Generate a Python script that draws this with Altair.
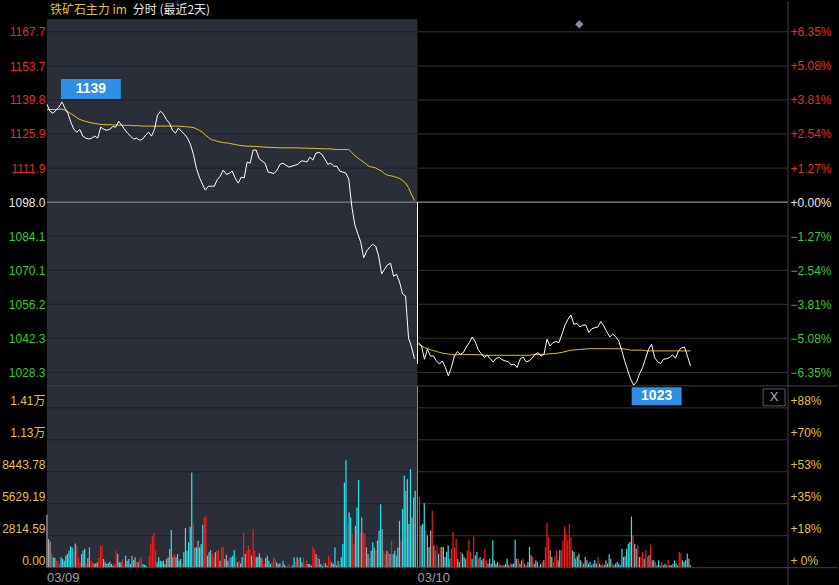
import altair as alt
import pandas as pd

# ---------------- data ----------------
PRE_SETTLE = 1098.0
DAY_LABELS = ["03/09", "03/10"]
DAY_LEN = 372            # time units per trading session
PRICE_STEP = 3           # price sampled every 3 time units
VOL_STEP_1 = 1.58
VOL_STEP_2 = 1.6
DAY2_OPEN_PRINT = 1031.8  # first print of 03/10, drawn from the pre-settlement

TITLE_MAIN = "铁矿石主力 im"
TITLE_SUB = "分时 (最近2天)"

PRICE_TICKS = [1028.3, 1042.3, 1056.2, 1070.1, 1084.1, 1098.0, 1111.9, 1125.9, 1139.8, 1153.7, 1167.7]
PCT_TICKS = [-6.35, -5.08, -3.81, -2.54, -1.27, 0.0, 1.27, 2.54, 3.81, 5.08, 6.35]
VOL_TICKS = [0, 2814.59, 5629.19, 8443.78, 11258.37, 14072.96]
VOL_TOP = 16008
PRICE_DOMAIN = [1022.78, 1172.81]

# 03/09 price / average price
P1 = [1138, 1135.2, 1134.4, 1135.6, 1136.8, 1139, 1136.5, 1134.4, 1130.7, 1127.8,
      1126.6, 1127.7, 1125, 1124.2, 1123.8, 1124.2, 1125, 1124.2, 1128.7, 1127.8,
      1127.4, 1127.8, 1128.9, 1128.7, 1131.1, 1129.5, 1127.7, 1126.2, 1125, 1123.8,
      1124.2, 1123.3, 1123.8, 1125.4, 1126.6, 1125, 1127.8, 1133.6, 1135.2, 1134,
      1131.7, 1130.3, 1127.4, 1126.2, 1128.3, 1127, 1125.8, 1124.2, 1121.7, 1117.6,
      1111.9, 1108.2, 1105.4, 1102.9, 1104.5, 1104.5, 1104.5, 1107.2, 1108.6, 1111.1,
      1109.4, 1109.7, 1110.7, 1107.8, 1105.8, 1108.2, 1107.9, 1114.4, 1113.9, 1119.3,
      1119.3, 1115.8, 1114.8, 1113.9, 1110.3, 1110, 1109.7, 1111.1, 1113.5, 1113.9,
      1113.1, 1112.3, 1112.7, 1113.1, 1113.5, 1114.8, 1114.8, 1114.4, 1116.4, 1115.2,
      1118, 1118.4, 1117.6, 1115.6, 1113.5, 1113.9, 1112.7, 1112.7, 1110.7, 1110.3,
      1109.9, 1107.4, 1096.4, 1088.8, 1085.1, 1081.6, 1075.2, 1078, 1079.6, 1080.7,
      1080, 1075.9, 1068.6, 1070.6, 1072.4, 1072.9, 1067.7, 1068.4, 1065.3, 1060.4,
      1059.6, 1042.4, 1038.7, 1033.8]
A1 = [1135.9, 1135.9, 1135.9, 1135.9, 1136, 1136.1, 1135.6, 1135, 1134.2, 1133.4,
      1132.6, 1131.8, 1131.4, 1131, 1130.7, 1130.4, 1130.2, 1130, 1129.8, 1129.7,
      1129.7, 1129.7, 1129.6, 1129.6, 1129.5, 1129.5, 1129.4, 1129.4, 1129.4, 1129.3,
      1129.3, 1129.2, 1129.1, 1129.1, 1129.1, 1129.1, 1129.1, 1129.1, 1129.1, 1129.1,
      1129.1, 1129.1, 1129.1, 1129.1, 1129.1, 1129, 1128.9, 1128.8, 1128.7, 1128.5,
      1128, 1127.4, 1126.6, 1125.5, 1124.5, 1123.6, 1123.3, 1122.9, 1122.6, 1122.4,
      1122.2, 1122.1, 1121.8, 1121.6, 1121.3, 1121.1, 1121, 1120.9, 1120.9, 1120.8,
      1120.8, 1120.7, 1120.6, 1120.5, 1120.4, 1120.4, 1120.3, 1120.3, 1120.2, 1120.2,
      1120.2, 1120.2, 1120.2, 1120.2, 1120.2, 1120.1, 1120.1, 1120.1, 1120, 1120,
      1120, 1119.9, 1119.9, 1119.8, 1119.8, 1119.8, 1119.6, 1119.5, 1119.5, 1119.5,
      1119.5, 1119.5, 1118.3, 1117.1, 1116.1, 1115.2, 1114.3, 1113.3, 1112.5, 1112.3,
      1112, 1111.3, 1110.7, 1109.6, 1109, 1108.8, 1108.5, 1108.1, 1107.7, 1106.8,
      1105.8, 1103.9, 1101.1, 1098.6]

# 03/10 price / average price
P2 = [1040.5, 1039.1, 1033.7, 1037.8, 1035, 1035, 1033, 1031.7, 1033, 1030.3,
      1026.9, 1030.3, 1035, 1036.8, 1035.7, 1036.4, 1038.7, 1040.5, 1042.8, 1040.9,
      1037.5, 1036, 1034.4, 1035.3, 1033.9, 1032.6, 1034.1, 1034.4, 1033.5, 1033,
      1032.7, 1031.4, 1031.7, 1030.3, 1033.7, 1034.6, 1032.6, 1033, 1034.1, 1035.7,
      1036.4, 1035, 1035.7, 1041.9, 1039.1, 1040.5, 1040.9, 1040.5, 1043.9, 1047.6,
      1050, 1051.8, 1048, 1048.4, 1046.9, 1047.7, 1047.7, 1044.6, 1046.2, 1046.6,
      1046.9, 1049.1, 1047.3, 1045, 1042.8, 1044, 1042.9, 1041.2, 1037.4, 1033,
      1029.2, 1025.5, 1023, 1024.5, 1027.8, 1030.3, 1034.1, 1037.8, 1039.8, 1034.4,
      1032.7, 1031.9, 1033.7, 1033.9, 1034.4, 1035.5, 1034.1, 1037.1, 1038.4, 1038.7,
      1035, 1031]
A2 = [1039.8, 1039.1, 1038.4, 1038, 1037.6, 1037.2, 1036.9, 1036.5, 1036.2, 1036,
      1035.8, 1035.6, 1035.5, 1035.6, 1035.6, 1035.6, 1035.6, 1035.6, 1035.6, 1035.6,
      1035.5, 1035.5, 1035.3, 1035.3, 1035.3, 1035.3, 1035.3, 1035.3, 1035.3, 1035.3,
      1035.3, 1035.3, 1035.3, 1035.3, 1035.3, 1035.3, 1035.3, 1035.3, 1035.5, 1035.6,
      1035.7, 1035.7, 1035.7, 1035.8, 1035.9, 1036, 1036.1, 1036.3, 1036.5, 1036.8,
      1037.1, 1037.4, 1037.5, 1037.6, 1037.7, 1037.8, 1037.9, 1038, 1038, 1038,
      1038, 1038, 1038, 1038, 1038, 1038, 1038, 1038, 1038, 1037.9,
      1037.6, 1037.4, 1037.4, 1037.4, 1037.4, 1037.4, 1037.2, 1037.1, 1037.1, 1037.1,
      1037.1, 1037.1, 1037.1, 1037.1, 1037.1, 1037.1, 1037.1, 1037.1, 1037.1, 1037.1,
      1037.1, 1037.1]

# volumes (r = up, c = down, g = flat)
V1 = [4659, 2520, 2315, 1260, 908, 850, 615, 615, 322, 908,
      762, 615, 1055, 1201, 1494, 1875, 1787, 1494, 2139, 1934,
      908, 469, 1201, 1494, 1670, 322, 850, 1787, 615, 469,
      322, 381, 469, 850, 1934, 2022, 762, 469, 322, 410,
      527, 322, 176, 322, 1436, 1201, 469, 469, 762, 176,
      1055, 615, 762, 322, 1055, 674, 908, 527, 469, 762,
      967, 322, 264, 176, 88, 1055, 2080, 2813, 3018, 1494,
      469, 908, 615, 557, 615, 322, 762, 908, 1641, 3311,
      908, 1201, 908, 1201, 615, 762, 322, 1348, 3487, 1494,
      2227, 3604, 8380, 3897, 1787, 1787, 2373, 1787, 2080, 3780,
      4424, 4571, 1055, 1348, 1553, 1201, 908, 1348, 1494, 1553,
      615, 1787, 1846, 762, 1143, 615, 908, 908, 1055, 1553,
      908, 469, 615, 381, 908, 3106, 1201, 1494, 1934, 1641,
      1055, 3399, 1494, 908, 967, 1260, 908, 762, 322, 850,
      1055, 615, 322, 469, 908, 762, 469, 322, 381, 176,
      615, 264, 88, 176, 322, 88, 176, 908, 469, 908,
      762, 908, 469, 908, 322, 615, 322, 322, 176, 1846,
      1641, 1201, 908, 762, 322, 176, 469, 381, 176, 1055,
      762, 469, 322, 1787, 176, 615, 322, 908, 2080, 7501,
      9464, 3838, 4864, 4424, 2959, 2080, 3692, 5303, 7706, 3106,
      4424, 3106, 2959, 1787, 1201, 908, 1494, 2227, 1787, 1494,
      2373, 3252, 5596, 3399, 1494, 1201, 1494, 1348, 1201, 2373,
      1201, 1494, 1055, 1787, 4131, 2373, 5157, 8087, 6768, 7794,
      3838, 8673, 4424, 6182, 6768]
C1 = list("gggrccrrrc" "cccccccrcr" "rrcccrggrr" "gggrrrcgcg" "cgcrrcccrr"
          "cgccggcrgr" "rcccrrrrrr" "gccccggggc" "grccgcrccc" "cccrgcgccc"
          "rrgcgrrcrr" "grrggcrccc" "rgrgcrgrrr" "grrcccgrrc" "cgcrrrcggr"
          "cgcrrrccrg" "rccrrrcgcr" "rgrgccrgcr" "rcgccgrccc" "crccrrgccr"
          "grrggrccgr" "cccgrrgrcr" "gcgccrccgc" "ccgcc")
V2 = [6212, 3721, 3868, 5684, 3282, 2842, 1817, 3282, 5040, 1963,
      1524, 1963, 1231, 1817, 1817, 1817, 938, 1377, 1963, 791,
      1670, 3135, 1817, 2549, 791, 498, 1377, 1231, 938, 791,
      1524, 2461, 1377, 791, 2754, 1084, 1377, 791, 938, 645,
      791, 1670, 645, 352, 791, 352, 2403, 645, 352, 498,
      352, 205, 205, 205, 352, 791, 205, 352, 352, 352,
      2461, 791, 791, 352, 645, 791, 352, 205, 498, 1817,
      1084, 938, 352, 645, 498, 205, 352, 498, 645, 1817,
      3926, 2696, 1524, 938, 498, 996, 1524, 645, 1524, 1524,
      2403, 3633, 2989, 2403, 3868, 2696, 1524, 1377, 791, 996,
      1231, 645, 498, 352, 938, 645, 352, 498, 205, 352,
      645, 352, 938, 352, 205, 352, 205, 645, 352, 1172,
      791, 352, 205, 352, 498, 352, 205, 1670, 938, 996,
      1670, 2110, 2256, 4512, 2842, 2110, 1670, 1963, 938, 938,
      1377, 791, 1524, 938, 1084, 2051, 645, 645, 498, 205,
      645, 205, 498, 205, 352, 205, 645, 205, 205, 352,
      645, 352, 205, 1377, 1231, 645, 498, 645, 1231, 791,
      205]
C2 = list("rgccrgcgrg" "rrcrgcgccg" "rrrrgcrcgg" "rrrcrgcrcg" "crrcgccgcg"
          "rgrcccgrcg" "cgrcgrgrcc" "grgcgrcrgr" "rrgcrrrgcr" "rrrrrrgcgc"
          "gcrgcgccgc" "cgrgcrcgcc" "grcgcccccg" "ccccrggrgr" "rgrrgrgcrg"
          "cgrgcgrgcg" "cgcrrgcgcg" "c")

# ---------------- style ----------------
W, H1, H2 = 742, 367, 182
PANEL = "#2a2e39"
GRID_DARK = "#1e2129"
GRID = "#333333"
EDGE = "#3e4048"
RED = "#e52b2b"
GREEN = "#2fcf2f"
WHITE = "#e8e8e8"
YELLOW = "#e2c23a"
AVG = "#e6c229"
BOX = "#2d8fe6"
NUM_FONT = "Liberation Sans"
CJK_FONT = "Noto Sans CJK SC"

xs = alt.Scale(domain=[0, 2 * DAY_LEN], nice=False, zero=False)
ps = alt.Scale(domain=PRICE_DOMAIN, nice=False, zero=False)
pct_dom = [(d - PRE_SETTLE) / PRE_SETTLE * 100 for d in PRICE_DOMAIN]
pcs = alt.Scale(domain=pct_dom, nice=False, zero=False)
vs = alt.Scale(domain=[0, VOL_TOP], nice=False, zero=False)

# ---------------- frames ----------------
price_df = pd.DataFrame({
    "t": [i * PRICE_STEP for i in range(len(P1))] + [DAY_LEN + 1 + i * PRICE_STEP for i in range(len(P2))],
    "price": P1 + P2,
    "avg": A1 + A2,
    "day": [DAY_LABELS[0]] * len(P1) + [DAY_LABELS[1]] * len(P2),
})
hi_df = price_df.loc[[price_df["price"].idxmax()]].assign(label=lambda d: d["price"].round().astype(int).astype(str))
lo_df = price_df.loc[[price_df["price"].idxmin()]].assign(label=lambda d: d["price"].round().astype(int).astype(str))

vol_df = pd.DataFrame({
    "t": [i * VOL_STEP_1 for i in range(len(V1))] + [DAY_LEN + 2 + i * VOL_STEP_2 for i in range(len(V2))],
    "vol": V1 + V2,
    "dir": C1 + C2,
})

day1_df = pd.DataFrame({"x0": [0], "x1": [DAY_LEN]})
pgrid1_df = pd.DataFrame({"tick": PRICE_TICKS, "x0": 0, "x1": DAY_LEN})
pgrid2_df = pd.DataFrame({"tick": PRICE_TICKS, "x0": DAY_LEN, "x1": 2 * DAY_LEN})
vgrid1_df = pd.DataFrame({"tick": VOL_TICKS[1:], "x0": 0, "x1": DAY_LEN})
vgrid2_df = pd.DataFrame({"tick": VOL_TICKS[1:], "x0": DAY_LEN, "x1": 2 * DAY_LEN})
pre_df = pd.DataFrame({"p": [PRE_SETTLE], "x0": [0], "x1": [2 * DAY_LEN]})
open_df = pd.DataFrame({"t": [DAY_LEN], "p0": [PRE_SETTLE], "p1": [DAY2_OPEN_PRINT]})
pct_df = pd.DataFrame({"pct": PCT_TICKS})
vtick_df = pd.DataFrame({"v": VOL_TICKS})
sep_df = pd.DataFrame({"t": [DAY_LEN]})
day_start_df = pd.DataFrame({"t": [0, DAY_LEN], "label": DAY_LABELS})
one = pd.DataFrame({"a": [0]})

X = lambda f, axis=None: alt.X(f, type="quantitative", scale=xs, axis=axis)
YP = lambda f, axis=None: alt.Y(f, type="quantitative", scale=ps, axis=axis)
YV = lambda f, axis=None: alt.Y(f, type="quantitative", scale=vs, axis=axis)

# ---------------- price panel ----------------
price_axis = alt.Axis(
    values=PRICE_TICKS, format=".1f", title=None, ticks=False, domain=False, grid=False,
    labelPadding=2, labelFont=NUM_FONT, labelFontSize=12,
    labelColor={"condition": [
        {"test": f"datum.value > {PRE_SETTLE} + 0.05", "value": RED},
        {"test": f"datum.value < {PRE_SETTLE} - 0.05", "value": GREEN}],
        "value": WHITE},
)
pct_axis = alt.Axis(
    values=PCT_TICKS, title=None, ticks=False, domain=False, grid=False, orient="right",
    labelPadding=2, labelFont=NUM_FONT, labelFontSize=12,
    labelExpr="(datum.value < -0.001 ? '' : '+') + format(datum.value, '.2f') + '%'",
    labelColor={"condition": [
        {"test": "datum.value > 0.001", "value": RED},
        {"test": "datum.value < -0.001", "value": GREEN}],
        "value": WHITE},
)

bg1 = alt.Chart(day1_df).mark_rect(color=PANEL).encode(
    x=X("x0:Q"), x2="x1:Q", y=alt.value(0), y2=alt.value(H1))
pgrid1 = alt.Chart(pgrid1_df).mark_rule(color=GRID_DARK, strokeWidth=1).encode(
    x=X("x0:Q"), x2="x1:Q", y=YP("tick:Q", price_axis))
pgrid2 = alt.Chart(pgrid2_df).mark_rule(color=GRID, strokeWidth=1).encode(
    x=X("x0:Q"), x2="x1:Q", y=YP("tick:Q"))
pre_line = alt.Chart(pre_df).mark_rule(color="#9a9a9a", strokeWidth=1).encode(
    x=X("x0:Q"), x2="x1:Q", y=YP("p:Q"))
avg_line = alt.Chart(price_df).mark_line(color=AVG, strokeWidth=1).encode(
    x=X("t:Q"), y=YP("avg:Q"), detail="day:N")
px_line = alt.Chart(price_df).mark_line(color="white", strokeWidth=1).encode(
    x=X("t:Q"), y=YP("price:Q"), detail="day:N")
open_rule = alt.Chart(open_df).mark_rule(color="white", strokeWidth=1).encode(
    x=X("t:Q"), y=YP("p0:Q"), y2="p1:Q")

hi_box = alt.Chart(hi_df).mark_rect(color=BOX, width=60, height=20, xOffset=29, yOffset=-13).encode(
    x=X("t:Q"), y=YP("price:Q"))
hi_txt = alt.Chart(hi_df).mark_text(color="white", font=NUM_FONT, fontSize=14, fontWeight="bold",
                                    dx=29, dy=-13, baseline="middle").encode(
    x=X("t:Q"), y=YP("price:Q"), text="label:N")
lo_box = alt.Chart(lo_df).mark_rect(color=BOX, width=50, height=18, xOffset=23, yOffset=11).encode(
    x=X("t:Q"), y=YP("price:Q"))
lo_txt = alt.Chart(lo_df).mark_text(color="white", font=NUM_FONT, fontSize=14, fontWeight="bold",
                                    dx=23, dy=11, baseline="middle").encode(
    x=X("t:Q"), y=YP("price:Q"), text="label:N")

diamond = alt.Chart(one).mark_point(shape="diamond", filled=True, size=70, color="#8590a0", opacity=1).encode(
    x=alt.value(533), y=alt.value(5))
title1 = alt.Chart(one).mark_text(color=YELLOW, font=CJK_FONT, fontSize=12, align="left", baseline="middle").encode(
    x=alt.value(3), y=alt.value(-9.5), text=alt.value(TITLE_MAIN))
title2 = alt.Chart(one).mark_text(color=WHITE, font=CJK_FONT, fontSize=12, align="left", baseline="middle").encode(
    x=alt.value(86), y=alt.value(-9.5), text=alt.value(TITLE_SUB))
p_border = alt.Chart(one).mark_rule(color=EDGE).encode(x=alt.value(W), y=alt.value(-18), y2=alt.value(H1))
anchor = alt.Chart(one).mark_rule(opacity=0).encode(x=alt.value(-47), x2=alt.value(-46), y=alt.value(0))

pct_dummy = alt.Chart(pct_df).mark_rule(opacity=0).encode(
    y=alt.Y("pct:Q", scale=pcs, axis=pct_axis))

price_panel = alt.layer(
    bg1, pgrid1, pgrid2, pre_line, avg_line, px_line, open_rule, hi_box, hi_txt, lo_box, lo_txt,
    diamond, title1, title2, p_border, anchor, pct_dummy,
).resolve_scale(y="independent").properties(width=W, height=H1)

# ---------------- volume panel ----------------
vol_left_axis = alt.Axis(
    values=VOL_TICKS, title=None, ticks=False, domain=False, grid=False,
    labelPadding=2, labelFont=NUM_FONT + ", " + CJK_FONT, labelFontSize=12, labelColor=YELLOW,
    labelBaseline="bottom",
    labelExpr="datum.value >= 10000 ? format(datum.value / 10000, '.2f') + '万' : format(datum.value, '.2f')",
)
vol_right_axis = alt.Axis(
    values=VOL_TICKS, title=None, ticks=False, domain=False, grid=False, orient="right",
    labelPadding=2, labelFont=NUM_FONT, labelFontSize=12, labelColor=YELLOW, labelBaseline="bottom",
    labelExpr=f"datum.value == 0 ? '+ 0%' : '+' + format(datum.value / {VOL_TOP} * 100, '.0f') + '%'",
)

bg2 = alt.Chart(day1_df).mark_rect(color=PANEL).encode(
    x=X("x0:Q"), x2="x1:Q", y=alt.value(0), y2=alt.value(H2))
vgrid1 = alt.Chart(vgrid1_df).mark_rule(color=GRID_DARK, strokeWidth=1).encode(
    x=X("x0:Q"), x2="x1:Q", y=YV("tick:Q", vol_left_axis))
vgrid2 = alt.Chart(vgrid2_df).mark_rule(color=GRID, strokeWidth=1).encode(
    x=X("x0:Q"), x2="x1:Q", y=YV("tick:Q"))
bars = alt.Chart(vol_df).mark_rule(strokeWidth=1.2).encode(
    x=X("t:Q"),
    y=YV("vol:Q"), y2=alt.datum(0),
    color=alt.Color("dir:N", scale=alt.Scale(domain=["r", "c", "g"], range=["#f01e1e", "#27e6ee", "#a6a6a6"]),
                    legend=None))
sep = alt.Chart(sep_df).mark_rule(color="#8a8a8a").encode(
    x=X("t:Q"), y=alt.value(0), y2=alt.value(H2))
day_labels = alt.Chart(day_start_df).mark_text(
    color="#9aa0a8", font=NUM_FONT, fontSize=13, align="left", baseline="middle").encode(
    x=X("t:Q"), y=alt.value(H2 + 10), text="label:N")
top_line = alt.Chart(one).mark_rule(color=EDGE).encode(x=alt.value(0), x2=alt.value(W + 50), y=alt.value(0))
bot_line = alt.Chart(one).mark_rule(color=EDGE).encode(x=alt.value(0), x2=alt.value(W + 50), y=alt.value(H2))
v_border = alt.Chart(one).mark_rule(color=EDGE).encode(x=alt.value(W), y=alt.value(0), y2=alt.value(H2 + 18))
xbox = alt.Chart(one).mark_rect(fill="black", stroke="#5c5c5c", strokeWidth=1).encode(
    x=alt.value(717), x2=alt.value(739), y=alt.value(3), y2=alt.value(20))
xtxt = alt.Chart(one).mark_text(color="#b0b0b0", font=NUM_FONT, fontSize=13, baseline="middle").encode(
    x=alt.value(728), y=alt.value(11.5), text=alt.value("X"))

vol_dummy = alt.Chart(vtick_df).mark_rule(opacity=0).encode(
    y=alt.Y("v:Q", scale=vs, axis=vol_right_axis))

vol_panel = alt.layer(
    bg2, vgrid1, vgrid2, bars, sep, day_labels, top_line, bot_line, v_border, xbox, xtxt, vol_dummy,
).resolve_scale(y="independent").properties(width=W, height=H2)

chart = alt.vconcat(price_panel, vol_panel, spacing=0, bounds="flush").properties(
    background="black", padding=0
).configure_view(stroke=None)

chart.save("out.html", embed_options={"renderer": "svg", "actions": False})
